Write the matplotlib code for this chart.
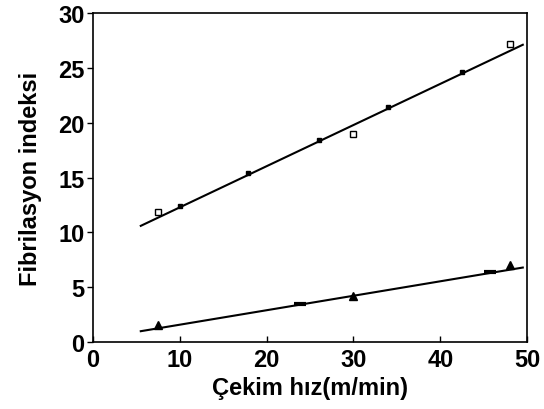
import matplotlib
matplotlib.use("Agg")
import matplotlib.pyplot as plt

# ── 데이터 ─────────────────────────────────────────────
x_open_sq = [7.5, 30.0, 48.0]
y_open_sq = [11.9, 19.0, 27.2]
x_dot = [10.0, 17.8, 26.0, 34.0, 42.5]
y_dot = [12.4, 15.4, 18.4, 21.4, 24.6]

x_tri = [7.5, 30.0, 48.0]
y_tri = [1.6, 4.2, 7.0]
x_dash = [23.8, 45.7]
y_dash = [3.5, 6.4]

fit_x = [5.5, 49.5]
fit_upper = [10.6, 27.1]
fit_lower = [1.0, 6.8]

xticks = [0, 10, 20, 30, 40, 50]
yticks = [0, 5, 10, 15, 20, 25, 30]

plt.rcParams["font.family"] = ["Liberation Sans", "DejaVu Sans"]

fig = plt.figure(figsize=(5.44, 4.10), dpi=100)
ax = fig.add_axes([0.171, 0.163, 0.798, 0.803])

ax.plot(fit_x, fit_upper, color="black", lw=1.5)
ax.plot(fit_x, fit_lower, color="black", lw=1.5)

ax.plot(x_open_sq, y_open_sq, ls="none", marker="s", ms=5, mfc="white",
        mec="black", mew=1.0)
ax.plot(x_dot, y_dot, ls="none", marker="s", ms=3, color="black")
ax.plot(x_tri, y_tri, ls="none", marker="^", ms=6, color="black")
ax.plot(x_dash, y_dash, ls="none", marker="_", ms=9, mew=3, color="black")

ax.set_xlim(0, 50)
ax.set_ylim(0, 30)
ax.set_xticks(xticks)
ax.set_yticks(yticks)
ax.tick_params(axis="x", direction="in", length=4, width=1, labelsize=17, pad=4)
ax.tick_params(axis="y", direction="out", length=4, width=1, labelsize=17, pad=2)
for lab in ax.get_xticklabels() + ax.get_yticklabels():
    lab.set_fontweight("bold")

for s in ax.spines.values():
    s.set_linewidth(1.2)

ax.set_xlabel("Çekim hız(m/min)", fontsize=17, fontweight="bold", labelpad=4)
ax.set_ylabel("Fibrilasyon indeksi", fontsize=17, fontweight="bold", labelpad=12)

fig.savefig("out.png", dpi=100)
